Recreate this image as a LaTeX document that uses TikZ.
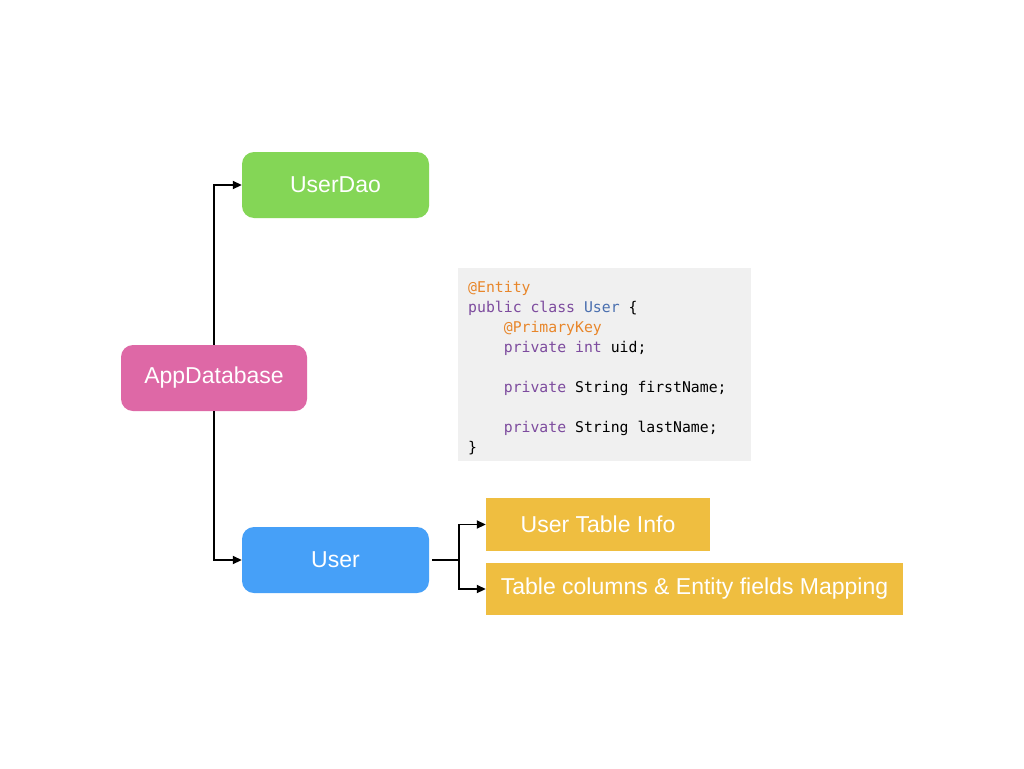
\documentclass[tikz,border=0pt]{standalone}
\usepackage{fontspec}
\setmainfont{Liberation Sans}
\newfontfamily\codefont{DejaVu Sans Mono}
\usetikzlibrary{arrows.meta}
\definecolor{cgreen}{HTML}{84D656}
\definecolor{cpink}{HTML}{DE68A6}
\definecolor{cblue}{HTML}{46A0F8}
\definecolor{cyellow}{HTML}{EFBE40}
\definecolor{cgray}{HTML}{F0F0F0}
\definecolor{korange}{HTML}{E8862A}
\definecolor{kpurple}{HTML}{7D4B9E}
\definecolor{kblue}{HTML}{4A6FAF}
\newcommand{\lowtxt}[1]{\raisebox{-2pt}{#1}}
\begin{document}
\begin{tikzpicture}[x=1pt,y=1pt,
  rbox/.style={rounded corners=12pt, text=white, font=\fontsize{23}{26}\selectfont, inner sep=0pt},
  ybox/.style={fill=cyellow, text=white, font=\fontsize{23}{26}\selectfont, inner sep=0pt},
  conn/.style={line width=1.8pt, -{Triangle[length=9pt,width=8pt]}},
  plainconn/.style={line width=1.8pt}]
\useasboundingbox (0,0) rectangle (1024,-768);
\fill[white] (0,0) rectangle (1024,-768);
\node[rbox, fill=cgreen, minimum width=187pt, minimum height=66pt] (dao) at (335.5,-185) {\lowtxt{UserDao}};
\node[rbox, fill=cpink, minimum width=186pt, minimum height=66pt] (db) at (214,-378) {\lowtxt{AppDatabase}};
\node[rbox, fill=cblue, minimum width=187pt, minimum height=66pt] (user) at (335.5,-560) {\lowtxt{User}};
\node[ybox, minimum width=224pt, minimum height=53pt] (info) at (598,-524.5) {\lowtxt{User Table Info}};
\node[ybox, minimum width=417pt, minimum height=52pt] (map) at (694.5,-589) {\lowtxt{Table columns \& Entity fields Mapping}};
\node[fill=cgray, minimum width=293pt, minimum height=193pt, inner sep=0pt] (code) at (604.5,-364.5) {};
\begin{scope}[font=\codefont\fontsize{14.8}{20}\selectfont]
\node[text=korange, inner sep=0pt, anchor=base west] (l1) at (468,-292) {@Entity};
\node[inner sep=0pt, anchor=base west] (l2) at (468,-312) {\textcolor{kpurple}{public class} \textcolor{kblue}{User} \{};
\node[text=korange, inner sep=0pt, anchor=base west] (l3) at (468,-332) {\phantom{xxxx}@PrimaryKey};
\node[inner sep=0pt, anchor=base west] (l4) at (468,-352) {\phantom{xxxx}\textcolor{kpurple}{private int} uid;};
\node[inner sep=0pt, anchor=base west] (l5) at (468,-392) {\phantom{xxxx}\textcolor{kpurple}{private} String firstName;};
\node[inner sep=0pt, anchor=base west] (l6) at (468,-432) {\phantom{xxxx}\textcolor{kpurple}{private} String lastName;};
\node[inner sep=0pt, anchor=base west] (l7) at (468,-452) {\}};
\end{scope}
\draw[conn] (db.north) |- (dao.west);
\draw[conn] (db.south) |- (user.west);
\coordinate (split) at (459,-560);
\draw[plainconn] ([xshift=3pt]user.east) -- (split);
\draw[conn] (split) |- (info.west);
\draw[conn] (split) |- (map.west);
\end{tikzpicture}
\end{document}
